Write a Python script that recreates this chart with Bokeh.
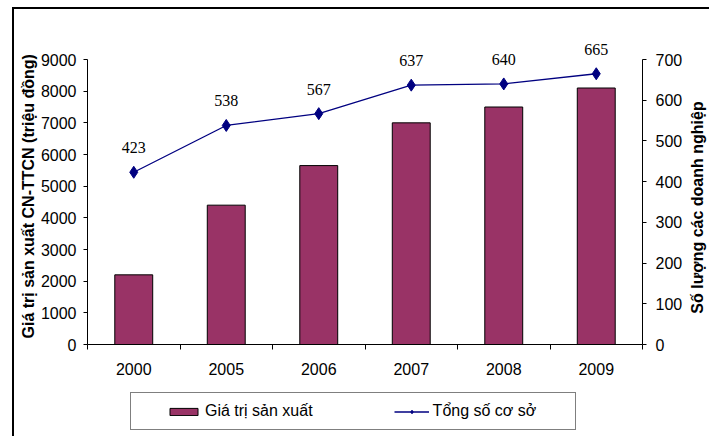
import math
from bokeh.plotting import figure
from bokeh.layouts import column
from bokeh.models import (ColumnDataSource, Range1d, LinearAxis, FixedTicker, LabelSet,
                          Legend, LegendItem, Title, Label)
from bokeh.embed import file_html
from bokeh.resources import INLINE

years = ["2000", "2005", "2006", "2007", "2008", "2009"]
production_value = [2200, 4400, 5650, 7000, 7500, 8100]
enterprise_count = [423, 538, 567, 637, 640, 665]
left_ticks = [0, 1000, 2000, 3000, 4000, 5000, 6000, 7000, 8000, 9000]
right_ticks = [0, 100, 200, 300, 400, 500, 600, 700]
left_title = "Giá trị sản xuất CN-TTCN (triệu đồng)"
right_title = "Số lượng các doanh nghiệp"

FONT = "Liberation Sans"
BAR = "#993366"
LINE = "#000080"

# layout (page pixels)
OX, OY = 14, 9            # where the framed box content starts
W = 709 - OX
SPLIT = 384               # page y where legend strip begins
H1 = SPLIT - OY
H2 = 436 - SPLIT
FRAME_L, FRAME_R, FRAME_T, FRAME_B = 87, 642, 36, 344
AXIS_TOP = 59  # where the top tick sits
stretch = (FRAME_B - FRAME_T) / (FRAME_B - AXIS_TOP)

xs = [i + 0.5 for i in range(len(years))]
src = ColumnDataSource(dict(x=xs, year=years, val=production_value, cnt=enterprise_count,
                            lbl=[str(c) for c in enterprise_count]))

p = figure(width=W, height=H1, output_backend="svg", toolbar_location=None,
           x_range=Range1d(0, len(years)), y_range=Range1d(0, left_ticks[-1] * stretch),
           min_border_left=FRAME_L - OX, min_border_right=W - (FRAME_R - OX),
           min_border_top=FRAME_T - OY, min_border_bottom=H1 - (FRAME_B - OY))
p.outline_line_color = None
p.grid.visible = False
p.background_fill_color = "white"
p.border_fill_color = "white"
p.extra_y_ranges = {"cnt": Range1d(0, right_ticks[-1] * stretch)}


def draw_series(fig, y_name):
    b = fig.vbar(x="x", top="val", width=0.41, source=src, fill_color=BAR,
                 line_color="black", line_width=1)
    l = fig.line(x="x", y="cnt", source=src, y_range_name=y_name, line_color=LINE,
                 line_width=1.3)
    s = fig.scatter(x="x", y="cnt", source=src, y_range_name=y_name, marker="diamond",
                    size=12, fill_color=LINE, line_color=LINE)
    return b, l, s


draw_series(p, "cnt")

# x axis
xa = p.xaxis[0]
xa.ticker = FixedTicker(ticks=xs, minor_ticks=list(range(len(years) + 1)))
xa.major_label_overrides = {x: y for x, y in zip(xs, years)}
xa.major_tick_line_color = None
xa.minor_tick_out = 5
xa.minor_tick_in = 0
xa.minor_tick_line_color = "black"
xa.axis_line_color = "black"
xa.major_label_standoff = 12
xa.major_label_text_font = FONT
xa.major_label_text_font_size = "16px"
xa.major_label_text_color = "black"

# left axis
ya = p.yaxis[0]
ya.ticker = FixedTicker(ticks=left_ticks)
ya.bounds = (left_ticks[0], left_ticks[-1])
ya.major_tick_out = 4
ya.major_tick_in = 0
ya.minor_tick_line_color = None
ya.axis_line_color = "black"
ya.major_tick_line_color = "black"
ya.major_label_standoff = 7
ya.major_label_text_font = FONT
ya.major_label_text_font_size = "16px"
ya.major_label_text_color = "black"

# left title placed from the bottom of the frame
lt = Title(text=left_title, align="left", offset=6, standoff=2, text_font=FONT,
           text_font_size="16px", text_font_style="bold", text_color="black")
p.add_layout(lt, "left")

# right axis
ra = LinearAxis(y_range_name="cnt", ticker=FixedTicker(ticks=right_ticks))
ra.bounds = (right_ticks[0], right_ticks[-1])
ra.major_tick_out = 4
ra.major_tick_in = 0
ra.minor_tick_line_color = None
ra.axis_line_color = "black"
ra.major_tick_line_color = "black"
ra.major_label_standoff = 9
ra.major_label_text_font = FONT
ra.major_label_text_font_size = "16px"
ra.major_label_text_color = "black"
p.add_layout(ra, "right")

# right title, reading bottom-to-top, centred at page y = 207
rt = Label(x=12, y=FRAME_B - 207, x_units="screen", y_units="screen", text=right_title,
           angle=math.pi / 2, text_align="center", text_baseline="middle",
           text_font=FONT, text_font_size="16px", text_font_style="bold",
           text_color="black")
p.add_layout(rt, "right")

labels = LabelSet(x="x", y="cnt", text="lbl", source=src, y_range_name="cnt",
                  text_align="center", text_baseline="alphabetic", y_offset=19,
                  text_font=FONT, text_font_size="16px", text_color="black")
p.add_layout(labels)

# legend strip: same series (hidden), legend inside its frame
q = figure(width=W, height=H2, output_backend="svg", toolbar_location=None,
           x_range=Range1d(0, len(years)), y_range=Range1d(0, left_ticks[-1]),
           x_axis_location=None, y_axis_location=None, min_border=0)
q.outline_line_color = None
q.grid.visible = False
q.border_fill_color = "white"
q.background_fill_color = "white"
q.extra_y_ranges = {"cnt": Range1d(0, right_ticks[-1])}
qb, ql, qs = draw_series(q, "cnt")
for r in (qb, ql, qs):
    r.visible = False

LEG_L, LEG_B = 130, 430
items = [LegendItem(label="Giá trị sản xuất", renderers=[qb]),
         LegendItem(label="Tổng số cơ sở", renderers=[ql, qs])]
common = dict(items=items, orientation="horizontal", border_line_color="black",
              border_line_width=1, background_fill_color="white", glyph_width=35,
              glyph_height=9, label_standoff=4, margin=0, label_height=20,
              label_text_font=FONT, label_text_font_size="16px", label_text_color="black",
              location=(LEG_L - FRAME_L, 436 - LEG_B))
try:
    legend = Legend(padding=dict(left=35, right=39, top=8, bottom=8), spacing=81, **common)
except Exception:
    legend = Legend(padding=9, spacing=124, **common)
q.add_layout(legend)

layout = column(p, q, spacing=0,
                styles={"border-left": "2px solid black", "border-top": "2px solid black",
                        "margin-left": "12px", "margin-top": "7px"})
open("out.html", "w").write(file_html(layout, INLINE))
